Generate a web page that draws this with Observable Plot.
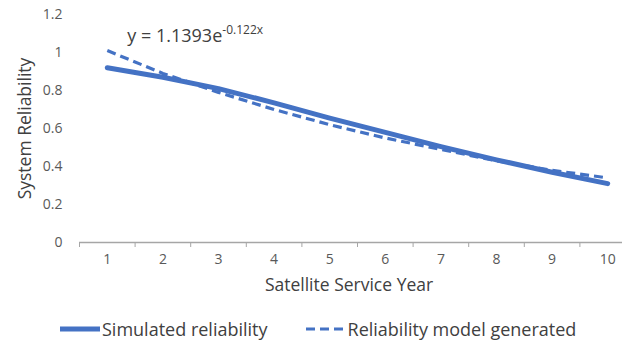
<!DOCTYPE html>
<html>
<head>
<meta charset="utf-8">
<script src="https://cdn.jsdelivr.net/npm/d3@7"></script>
<script src="https://cdn.jsdelivr.net/npm/@observablehq/plot@0.6"></script>
<style>
  html, body { margin: 0; padding: 0; background: #fff; }
  body { width: 622px; height: 347px; overflow: hidden; font-family: "Open Sans", sans-serif; }
  #legend { display: flex; align-items: center; height: 37px; margin-left: 60px; gap: 38px; color: #404040; font-size: 18px; }
  .item { display: flex; align-items: center; }
  .item svg { margin-right: 1px; }
</style>
</head>
<body>
<div id="chart"></div>
<div id="legend"></div>
<script>
// ---- data ----
const years = [1, 2, 3, 4, 5, 6, 7, 8, 9, 10];
const simulated = [0.92, 0.87, 0.81, 0.735, 0.655, 0.58, 0.505, 0.435, 0.37, 0.31];
const model = [1.01, 0.89, 0.79, 0.70, 0.62, 0.55, 0.49, 0.43, 0.38, 0.34];
const yTicks = [0, 0.2, 0.4, 0.6, 0.8, 1, 1.2];
const seriesNames = ["Simulated reliability", "Reliability model generated"];
const xTitle = "Satellite Service Year";
const yTitle = "System Reliability";
const equation = "y = 1.1393e";
const exponent = "-0.122x";
const eqPos = {x: 1.36, y: 1.085};

const blue = "#4472C4";
const rows = years.map((yr, i) => ({year: yr, sim: simulated[i], model: model[i]}));
const bounds = [years[0] - 0.5, ...years.map(d => d + 0.5)];

const chart = Plot.plot({
  width: 622,
  height: 310,
  marginLeft: 79,
  marginRight: 0,
  marginTop: 14,
  marginBottom: 68,
  style: {fontFamily: "Open Sans, sans-serif", background: "#fff"},
  x: {type: "linear", domain: [bounds[0], bounds[bounds.length - 1]], range: [79, 635]},
  y: {domain: [0, 1.2]},
  marks: [
    Plot.axisY({ticks: yTicks, tickSize: 0, tickPadding: 17, fontSize: 14, fill: "#595959",
      tickFormat: d => String(+d.toFixed(1)), label: null}),
    Plot.axisX({ticks: bounds, tickSize: 5, stroke: "#a6a6a6", tickFormat: () => "", label: null}),
    Plot.axisX({ticks: years, tickSize: 0, tickPadding: 12, fontSize: 14, fill: "#595959",
      tickFormat: d => String(d), label: null}),
    Plot.ruleY([0], {stroke: "#a6a6a6", strokeWidth: 1.5}),
    Plot.line(rows, {x: "year", y: "sim", stroke: blue, strokeWidth: 5}),
    Plot.line(rows, {x: "year", y: "model", stroke: blue, strokeWidth: 3.2,
      strokeDasharray: "9,5", strokeLinecap: "butt"}),
    Plot.text([equation], {x: eqPos.x, y: eqPos.y, text: d => d, textAnchor: "start",
      fontSize: 18, fill: "#404040"}),
    Plot.text([xTitle], {frameAnchor: "bottom", dy: 48, text: d => d, fontSize: 17.5, fill: "#404040", dx: -2}),
    Plot.text([yTitle], {frameAnchor: "left", textAnchor: "middle", dx: -54, rotate: -90, text: d => d,
      fontSize: 17.5, fill: "#404040"})
  ]
});
document.getElementById("chart").appendChild(chart);

// superscript exponent as real text
d3.select(chart).selectAll("text").filter(function() { return this.textContent === equation; })
  .append("tspan").attr("font-size", 12).attr("dy", "-0.7em").text(exponent);

// legend
const legend = d3.select("#legend");
seriesNames.forEach((name, i) => {
  const item = legend.append("div").attr("class", "item");
  const s = item.append("svg").attr("width", 41).attr("height", 10);
  s.append("line").attr("x1", 0).attr("x2", 40).attr("y1", 5).attr("y2", 5)
    .attr("stroke", blue).attr("stroke-width", i === 0 ? 5 : 3.2)
    .attr("stroke-dasharray", i === 0 ? null : "9,5");
  item.append("span").text(name);
});
</script>
</body>
</html>
